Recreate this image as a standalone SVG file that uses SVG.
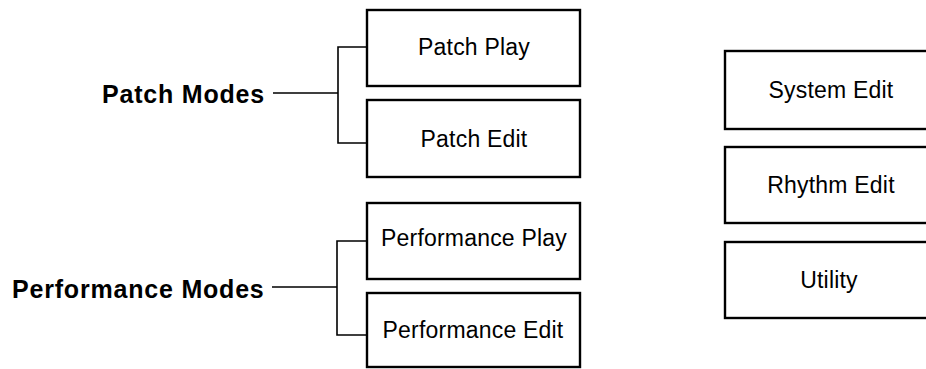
<svg xmlns="http://www.w3.org/2000/svg" width="926" height="369" viewBox="0 0 926 369">
  <style>
    .box { fill: #fff; stroke: #000; stroke-width: 2.4; }
    .lbl { font-family: "Liberation Sans", Arial, sans-serif; font-size: 23px; letter-spacing: 0.2px; fill: #000; text-anchor: middle; }
    .grp { font-family: "Liberation Sans", Arial, sans-serif; font-size: 25px; letter-spacing: 0.8px; font-weight: bold; fill: #000; }
    .wire { fill: none; stroke: #000; stroke-width: 1.6; }
  </style>
  <rect width="926" height="369" fill="#fff"/>

  <!-- bracket connectors from group labels to their modes -->
  <g id="connectors">
    <path class="wire" d="M273 93 H338 M367 47 H338 V143 H367"/>
    <path class="wire" d="M272 287 H337 M367 241 H337 V335 H367"/>
  </g>

  <g id="patch-modes">
    <text class="grp" x="102" y="103">Patch Modes</text>
  </g>
  <g id="performance-modes">
    <text class="grp" x="12" y="298">Performance Modes</text>
  </g>

  <g id="patch-play">
    <rect class="box" x="367" y="10" width="213" height="76"/>
    <text class="lbl" x="474" y="55">Patch Play</text>
  </g>
  <g id="patch-edit">
    <rect class="box" x="367" y="100" width="213" height="77"/>
    <text class="lbl" x="474" y="147">Patch Edit</text>
  </g>
  <g id="performance-play">
    <rect class="box" x="367" y="203" width="213" height="76"/>
    <text class="lbl" x="474" y="246">Performance Play</text>
  </g>
  <g id="performance-edit">
    <rect class="box" x="367" y="293" width="213" height="74"/>
    <text class="lbl" x="473" y="338">Performance Edit</text>
  </g>

  <g id="system-edit">
    <rect class="box" x="725" y="51" width="215" height="78"/>
    <text class="lbl" x="831" y="98">System Edit</text>
  </g>
  <g id="rhythm-edit">
    <rect class="box" x="725" y="147" width="215" height="76"/>
    <text class="lbl" x="831" y="193">Rhythm Edit</text>
  </g>
  <g id="utility">
    <rect class="box" x="725" y="242" width="215" height="76"/>
    <text class="lbl" x="829" y="288">Utility</text>
  </g>
</svg>
